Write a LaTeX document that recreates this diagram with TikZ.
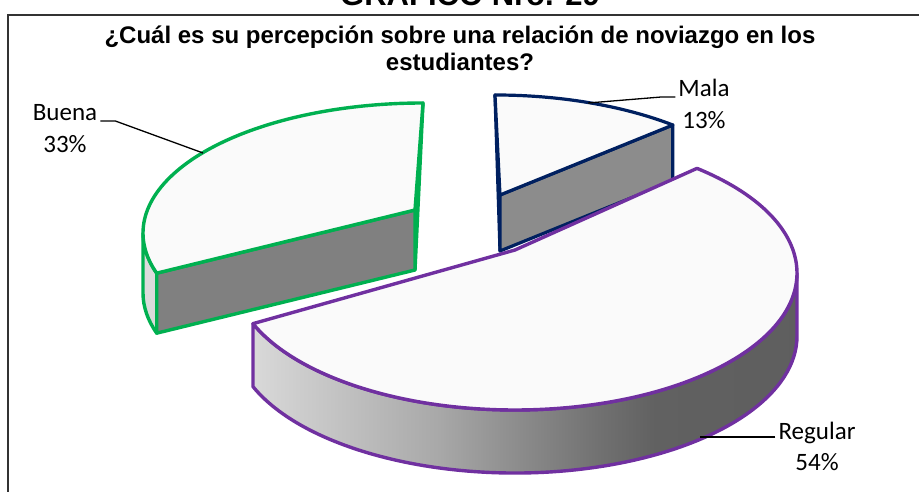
\documentclass[tikz,border=0pt]{standalone}
\usepackage{fontspec}
\setmainfont{Carlito}
\newfontfamily\arialfont{Liberation Sans}
\usetikzlibrary{calc,positioning}
\definecolor{verde}{HTML}{00B050}
\definecolor{azul}{HTML}{002060}
\definecolor{morado}{HTML}{7030A0}
\pgfdeclarehorizontalshading{regularside}{100bp}{color(0bp)=(black!15); color(25bp)=(black!15); color(42bp)=(black!34); color(50bp)=(black!46); color(57bp)=(black!56); color(62bp)=(black!62); color(75bp)=(black!63); color(100bp)=(black!63)}
\tikzset{
  rimB/.style={x radius=280pt, y radius=130pt},
  rimM/.style={x radius=282pt, y radius=134pt},
  rimR/.style={x radius=282pt, y radius=137pt},
  bueline/.style={draw=verde, line width=3.4pt, line join=round},
  malline/.style={draw=azul, line width=3.2pt, line join=round},
  regline/.style={draw=morado, line width=3.4pt, line join=round},
  lbl/.style={font=\fontsize{25}{30}\selectfont, inner sep=3pt},
  qtitle/.style={font=\arialfont\bfseries\fontsize{24}{27}\selectfont, inner sep=0pt},
  leader/.style={line width=1.3pt, black},
}

\begin{document}
\begin{tikzpicture}[x=1pt,y=1pt]
	%%%%% START %%%%%
	\useasboundingbox (0,0) rectangle (919,492);
	\clip (0,0) rectangle (919,492);
	
	\draw[line width=1.6pt, color=black!80] (8,-20) rectangle (940,477);
	\node[font=\arialfont\bfseries\fontsize{31}{36}\selectfont, anchor=base] (grafico) at (470,486) {GRAFICO Nro. 29};
	\node[qtitle, anchor=base] (pregunta1) at (460,448) {¿Cuál es su percepción sobre una relación de noviazgo en los};
	\node[qtitle, anchor=base] (pregunta2) at (460,421) {estudiantes?};
	
	% Buena
	\coordinate (cBue) at (423,259);
	\coordinate (aBue) at (415,282);
	\coordinate (bue1) at ($(cBue)+(90:280pt and 130pt)$);
	\coordinate (bue2) at ($(cBue)+(198:280pt and 130pt)$);
	\coordinate (bue3) at ($(cBue)+(180:280pt and 130pt)$);
	\filldraw[bueline, fill=black!12] (bue1) -- (aBue) -- ++(0,-60) -- cycle;
	\filldraw[bueline, fill=black!14] (bue3) arc[start angle=180, end angle=198, rimB] -- ++(0,-60) arc[start angle=198, end angle=180, rimB] -- cycle;
	\filldraw[bueline, fill=black!50] (bue2) -- (aBue) -- ++(0,-60) -- ($(bue2)+(0,-60)$) -- cycle;
	\filldraw[bueline, fill=black!2] (aBue) -- (bue1) arc[start angle=90, end angle=198, rimB] -- cycle;
	
	% Mala
	\coordinate (cMal) at (495,263);
	\coordinate (aMal) at (500,297);
	\coordinate (mal1) at ($(cMal)+(90:282pt and 134pt)$);
	\coordinate (mal2) at ($(cMal)+(50.9:282pt and 134pt)$);
	\filldraw[malline, fill=black!12] (mal1) -- (aMal) -- ++(0,-56) -- cycle;
	\filldraw[malline, fill=black!45] (aMal) -- (mal2) -- ++(0,-56) -- ($(aMal)+(0,-56)$) -- cycle;
	\filldraw[malline, fill=black!2] (aMal) -- (mal2) arc[start angle=50.9, end angle=90, rimM] -- cycle;
	
	% Regular
	\coordinate (cReg) at (515,219);
	\coordinate (aReg) at (515,242);
	\coordinate (reg0) at ($(cReg)+(0:282pt and 137pt)$);
	\coordinate (reg1) at ($(cReg)+(49.8:282pt and 137pt)$);
	\coordinate (reg2) at ($(cReg)+(201.7:282pt and 137pt)$);
	\shadedraw[regline, shading=regularside] (reg2) -- ++(0,-63) arc[start angle=201.7, end angle=360, rimR] -- (reg0) arc[start angle=0, end angle=-158.3, rimR] -- cycle;
	\filldraw[regline, fill=black!2] (aReg) -- (reg1) arc[start angle=49.8, end angle=-158.3, rimR] -- cycle;
	
	% labels
	\node[lbl, anchor=base] (lblBuena) at (65,371) {Buena};
	\node[lbl, anchor=base] (pctBuena) at ([yshift=-32pt]lblBuena.base) {33\%};
	\node[lbl, anchor=base] (lblMala) at (704,395) {Mala};
	\node[lbl, anchor=base] (pctMala) at ([yshift=-32pt]lblMala.base) {13\%};
	\node[lbl, anchor=base] (lblRegular) at (817,52) {Regular};
	\node[lbl, anchor=base] (pctRegular) at ([yshift=-31pt]lblRegular.base) {54\%};
	
	\coordinate (ptBue) at (203,339);
	\coordinate (ptMal) at (588,389);
	\coordinate (ptReg) at (700,55);
	\draw[leader] (lblBuena.base east) -- ++(15,0) -- (ptBue);
	\draw[leader] (lblMala.base west) -- ++(-14,0) -- (ptMal);
	\draw[leader] ([yshift=3pt]lblRegular.base west) -- (ptReg);
	
	%%%%% END %%%%%
\end{tikzpicture}
\end{document}
